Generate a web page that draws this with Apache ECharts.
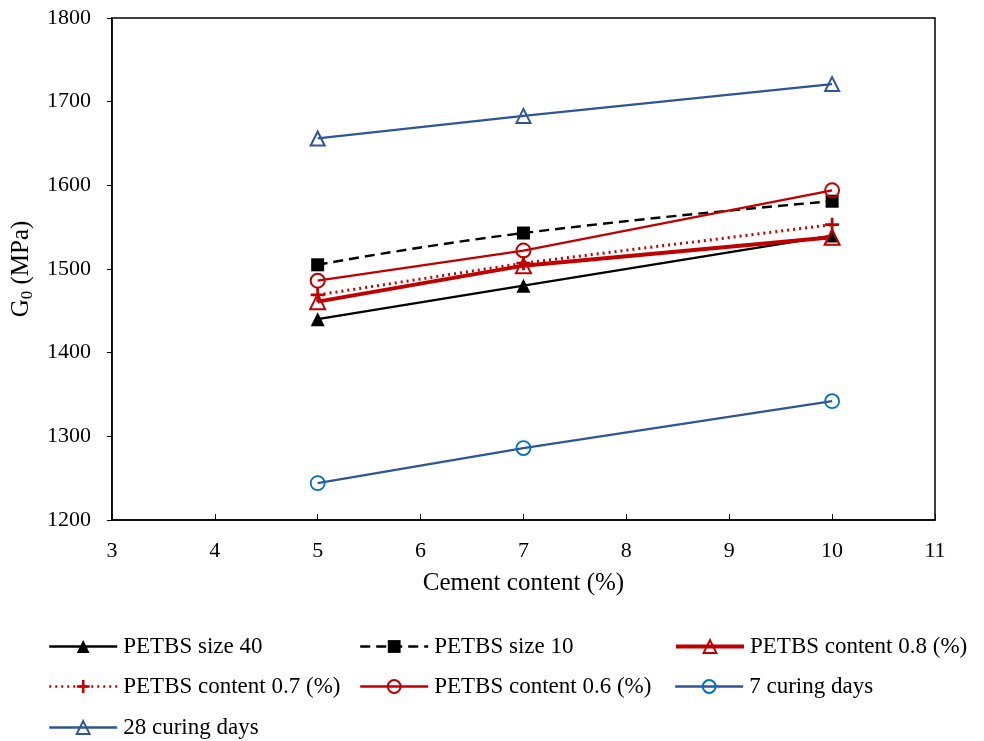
<!DOCTYPE html>
<html>
<head>
<meta charset="utf-8">
<script src="https://cdn.jsdelivr.net/npm/echarts@6/dist/echarts.min.js"></script>
<style>
  html, body { margin: 0; padding: 0; background: #fff; }
  #chart { width: 984px; height: 741px; }
</style>
</head>
<body>
<div id="chart"></div>
<script>
// cement content (%)
var cement = [5, 7, 10];

// G0 values (MPa)
var size40 = [1440, 1480, 1540];
var size10 = [1505, 1543, 1581];
var content08 = [1461, 1504, 1538];
var content07 = [1469, 1507, 1553];
var content06 = [1486, 1522, 1594];
var curing7 = [1244, 1286, 1342];
var curing28 = [1656, 1683, 1721];

var seriesNames = [
  'PETBS size 40',
  'PETBS size 10',
  'PETBS content 0.8 (%)',
  'PETBS content 0.7 (%)',
  'PETBS content 0.6 (%)',
  '7 curing days',
  '28 curing days'
];

var FONT = 'Liberation Serif';
var RED = '#c00000';
var BLUE = '#2f5597';
var PLUS = 'path://M4,0H6V4H10V6H6V10H4V6H0V4H4Z';

function pairs(vals) {
  return cement.map(function (c, i) { return [c, vals[i]]; });
}

var chart = echarts.init(document.getElementById('chart'));

// one legend per item so each sits where the original had it
var legendPos = [
  [48, 647], [359, 647], [674, 647],
  [48, 687], [359, 687], [674, 687],
  [48, 728]
];
// legend line widths (auto would clamp them to 2)
var legendLineW = [2.4, 2.4, 4, 2.5, 2.4, 2.4, 2.4];

var legends = seriesNames.map(function (name, i) {
  return {
    data: [name],
    left: legendPos[i][0],
    top: legendPos[i][1] - 12,
    padding: 0,
    itemWidth: 68,
    itemHeight: 16,
    itemGap: 0,
    selectedMode: false,
    lineStyle: { width: legendLineW[i] },
    textStyle: { fontFamily: FONT, fontSize: 23, color: '#000', padding: [0, 0, 0, 1] }
  };
});

var option = {
  backgroundColor: '#fff',
  animation: false,
  legend: legends,
  grid: {
    left: 111, right: 49, top: 18, bottom: 221,
    show: true, borderColor: '#000', borderWidth: 1.5
  },
  xAxis: {
    type: 'value',
    min: 3,
    max: 11,
    interval: 1,
    name: 'Cement content (%)',
    nameLocation: 'middle',
    nameGap: 51,
    nameTextStyle: { fontFamily: FONT, fontSize: 25, color: '#000' },
    axisLine: { lineStyle: { color: '#000', width: 1.5 } },
    axisTick: { show: true, inside: true, length: 6, lineStyle: { color: '#000' } },
    axisLabel: { fontFamily: FONT, fontSize: 22, color: '#000', margin: 20 },
    splitLine: { show: false }
  },
  yAxis: {
    type: 'value',
    min: 1200,
    max: 1800,
    interval: 100,
    name: '{a|G}{b|0}{a| (MPa)}',
    nameLocation: 'middle',
    nameGap: 66,
    nameRotate: 90,
    nameTextStyle: {
      rich: {
        a: { fontFamily: FONT, fontSize: 25, color: '#000', lineHeight: 30 },
        b: { fontFamily: FONT, fontSize: 17, color: '#000', lineHeight: 30, verticalAlign: 'bottom', padding: [11, 0, 0, 0] }
      }
    },
    axisLine: { show: true, lineStyle: { color: '#000', width: 1.5 } },
    axisTick: { show: true, inside: false, length: 5, lineStyle: { color: '#000' } },
    axisLabel: {
      fontFamily: FONT, fontSize: 22, color: '#000', margin: 21,
      formatter: function (v) { return String(v); }
    },
    splitLine: { show: false }
  },
  series: [
    {
      name: seriesNames[0],
      type: 'line',
      data: pairs(size40),
      symbol: 'triangle',
      symbolSize: 14,
      itemStyle: { color: '#000' },
      lineStyle: { color: '#000', width: 2.3 }
    },
    {
      name: seriesNames[1],
      type: 'line',
      data: pairs(size10),
      smooth: true,
      symbol: 'rect',
      symbolSize: 13,
      itemStyle: { color: '#000' },
      lineStyle: { color: '#000', width: 2.4, type: [10, 6] }
    },
    {
      name: seriesNames[2],
      type: 'line',
      data: pairs(content08),
      symbol: 'triangle',
      symbolSize: 15,
      itemStyle: { color: 'transparent', borderColor: RED, borderWidth: 2 },
      lineStyle: { color: RED, width: 4 }
    },
    {
      name: seriesNames[3],
      type: 'line',
      data: pairs(content07),
      symbol: PLUS,
      symbolSize: 14,
      itemStyle: { color: RED },
      lineStyle: { color: RED, width: 3, type: [2, 4] }
    },
    {
      name: seriesNames[4],
      type: 'line',
      data: pairs(content06),
      symbol: 'circle',
      symbolSize: 14,
      itemStyle: { color: 'transparent', borderColor: RED, borderWidth: 2 },
      lineStyle: { color: RED, width: 2.3 }
    },
    {
      name: seriesNames[5],
      type: 'line',
      data: pairs(curing7),
      symbol: 'circle',
      symbolSize: 14,
      itemStyle: { color: 'transparent', borderColor: '#0070c0', borderWidth: 1.8 },
      lineStyle: { color: BLUE, width: 2.3 }
    },
    {
      name: seriesNames[6],
      type: 'line',
      data: pairs(curing28),
      symbol: 'triangle',
      symbolSize: 14,
      itemStyle: { color: 'transparent', borderColor: BLUE, borderWidth: 2 },
      lineStyle: { color: BLUE, width: 2.3 }
    }
  ]
};

chart.setOption(option);
</script>
</body>
</html>
